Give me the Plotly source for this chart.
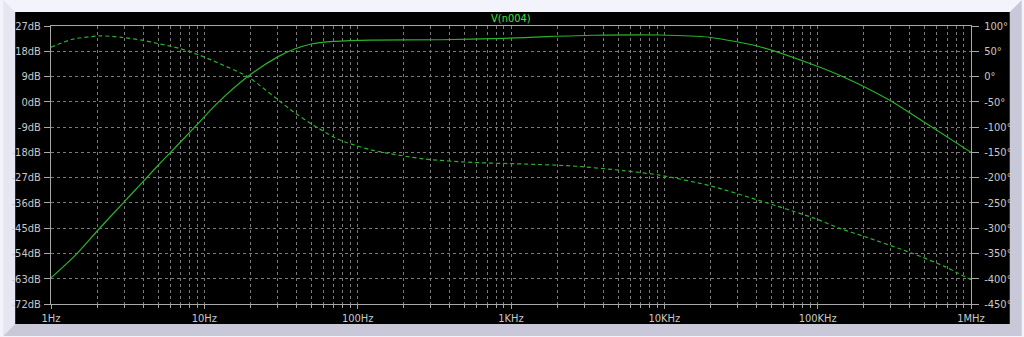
import plotly.graph_objects as go

# ---------------- data ----------------
mag_freq = [1, 1.45, 2, 3, 4, 5, 6.1, 8.9, 12.3, 19.3, 30.3, 38.8, 49.8, 70.5,
            122, 347, 893, 1710, 3430, 9290, 19600, 41400, 91800, 144000,
            289000, 500000, 1000000]
mag_db = [-62.7, -54.5, -46.0, -35.6, -28.3, -22.6, -17.7, -8.3, -0.2, 9.1,
          16.1, 18.8, 20.6, 21.5, 22.0, 22.1, 22.6, 23.2, 23.7, 23.8, 23.0,
          19.7, 13.4, 9.1, 0.8, -7.4, -18.0]

ph_freq = [1, 1.38, 2.1, 2.91, 3.93, 5.04, 6.79, 9.16, 12.3, 19.3, 28.8, 38.8,
           52.4, 70.5, 81.8, 122, 270, 571, 1205, 2540, 5370, 9290, 19600,
           41400, 96600, 138000, 204000, 417000, 675000, 822000, 1000000]
ph_deg = [58, 73.8, 80.4, 77.5, 72, 65, 56, 43, 27, -0.8, -41, -71.5,
          -97.7, -120.6, -129, -145, -163, -170, -173, -177, -186, -195,
          -215.6, -245, -281, -300, -317, -350, -376, -389, -402]

x_major = [1, 10, 100, 1e3, 1e4, 1e5, 1e6]
x_labels = ["1Hz", "10Hz", "100Hz", "1KHz", "10KHz", "100KHz", "1MHz"]
x_minor = [m * d for d in [1, 10, 100, 1e3, 1e4, 1e5] for m in range(2, 10)]

db_ticks = [27, 18, 9, 0, -9, -18, -27, -36, -45, -54, -63, -72]
db_labels = [f"{v}dB" for v in db_ticks]
deg_ticks = [100, 50, 0, -50, -100, -150, -200, -250, -300, -350, -400, -450]
deg_labels = [f"{v}°" for v in deg_ticks]

title_text = "V(n004)"

# ---------------- layout geometry ----------------
W, H = 1024, 337
ML, MR, MT, MB = 48, 51, 26, 32
PW, PH = W - ML - MR, H - MT - MB


def px(x):
    return (x - ML) / PW


def py(y):
    return (H - MB - y) / PH


def poly(points):
    return "M " + " L ".join(f"{px(a):.5f},{py(b):.5f}" for a, b in points) + " Z"


FONT = "Liberation Sans Narrow, DejaVu Sans Condensed, Arial Narrow, sans-serif"
TICKC = "#c8c8c8"
GRIDC = "#7a7a7a"
LINEC = "#a8a8a8"
GREEN = "#28b428"

fig = go.Figure()
fig.add_trace(go.Scatter(x=mag_freq, y=mag_db, mode="lines",
                         line=dict(color=GREEN, width=1.2, shape="spline",
                                   smoothing=0.7),
                         yaxis="y", hoverinfo="skip"))
fig.add_trace(go.Scatter(x=ph_freq, y=ph_deg, mode="lines",
                         line=dict(color=GREEN, width=1.2, shape="spline",
                                   smoothing=0.7, dash="4px,3px"),
                         yaxis="y2", hoverinfo="skip"))

shapes = [
    # light window face
    dict(type="path", xref="paper", yref="paper", layer="below",
         path=poly([(0, 0), (12, 12), (12, 325), (0, 337)]),
         fillcolor="#e6e6f2", line=dict(width=0)),
    # darker bevel bottom/right
    dict(type="path", xref="paper", yref="paper", layer="below",
         path=poly([(1024, 0), (1024, 337), (0, 337), (12, 325),
                    (1012, 325), (1012, 12)]),
         fillcolor="#c8c8d8", line=dict(width=0)),
    # black panel
    dict(type="rect", xref="paper", yref="paper", layer="below",
         x0=px(12), x1=px(1012), y0=py(325), y1=py(12),
         fillcolor="black", line=dict(width=0)),
]

fig.update_layout(
    width=W, height=H,
    margin=dict(l=ML, r=MR, t=MT, b=MB, pad=0),
    paper_bgcolor="#f3f3fb",
    plot_bgcolor="black",
    showlegend=False,
    shapes=shapes,
    font=dict(family=FONT, size=11, color=TICKC),
    xaxis=dict(type="log", range=[0, 6], tickmode="array",
               tickvals=x_major, ticktext=x_labels,
               ticks="outside", ticklen=4, tickcolor=LINEC,
               showline=True, linecolor=LINEC, linewidth=1, mirror=True,
               showgrid=True, gridcolor=GRIDC, griddash="3px,3px", gridwidth=1,
               minor=dict(tickmode="array", tickvals=x_minor, ticks="outside",
                          ticklen=3, tickcolor=LINEC, showgrid=True,
                          gridcolor=GRIDC, griddash="3px,3px", gridwidth=1),
               zeroline=False, tickfont=dict(size=11, color=TICKC)),
    yaxis=dict(range=[-72, 27], tickmode="array", tickvals=db_ticks,
               ticktext=db_labels, ticks="outside", ticklen=6,
               tickcolor=LINEC, ticklabelstandoff=1,
               showline=True, linecolor=LINEC, linewidth=1,
               showgrid=True, gridcolor=GRIDC, griddash="3px,3px",
               zeroline=False, tickfont=dict(size=11, color=TICKC)),
    yaxis2=dict(range=[-450, 100], overlaying="y", side="right",
                tickmode="array", tickvals=deg_ticks, ticktext=deg_labels,
                ticks="outside", ticklen=7, tickcolor=LINEC,
                ticklabelstandoff=3,
                showline=True, linecolor=LINEC, linewidth=1,
                showgrid=False, zeroline=False,
                tickfont=dict(size=11, color=TICKC)),
    annotations=[dict(text=title_text, xref="paper", yref="paper",
                      x=px(510), y=py(18), xanchor="center", yanchor="middle",
                      showarrow=False,
                      font=dict(family=FONT, size=11, color="#40e040"))],
)

fig.write_html("out.html")
